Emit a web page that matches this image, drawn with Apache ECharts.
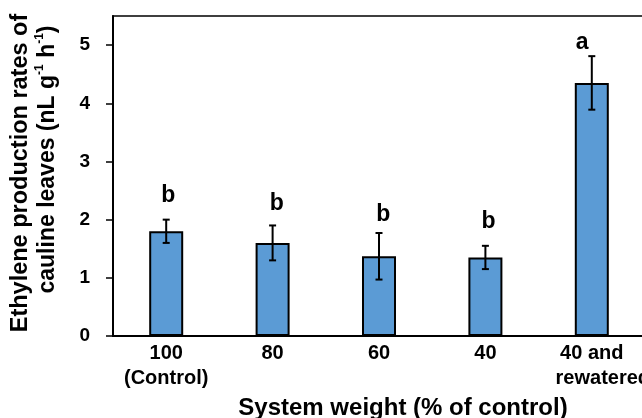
<!DOCTYPE html>
<html>
<head>
<meta charset="utf-8">
<script src="https://cdn.jsdelivr.net/npm/echarts@6/dist/echarts.min.js"></script>
<style>
html,body{margin:0;padding:0;background:#fff;}
#chart{width:642px;height:418px;}
</style>
</head>
<body>
<div id="chart"></div>
<script>
var categories = ['100\n(Control)', '80', '60', '40', '40 and\nrewatered'];
var means = [1.80, 1.60, 1.37, 1.35, 4.35];
var errors = [0.20, 0.30, 0.40, 0.20, 0.46];
var letters = ['b', 'b', 'b', 'b', 'a'];
var letterShift = [0.02, 0.04, 0.04, 0.03, -0.09];
var letterY = [2.42, 2.27, 2.09, 1.96, 5.05];
var yTicks = [0, 1, 2, 3, 4, 5];

var FONT = "'Liberation Sans', Arial, sans-serif";
var chart = echarts.init(document.getElementById('chart'));

var errData = means.map(function (m, i) { return [i, m - errors[i], m + errors[i]]; });
var letterData = letters.map(function (l, i) { return [i, letterY[i], letterShift[i]]; });

chart.setOption({
  animation: false,
  backgroundColor: '#fff',
  grid: { left: 113, top: 16, width: 532, height: 320, show: true, borderColor: '#000', borderWidth: 1.5, backgroundColor: 'transparent', containLabel: false, outerBoundsMode: 'none' },
  xAxis: {
    type: 'category',
    data: categories,
    axisLine: { lineStyle: { color: '#000', width: 2 } },
    axisTick: { show: false },
    axisLabel: {
      color: '#000', fontFamily: FONT, fontWeight: 'bold', fontSize: 20, lineHeight: 25, margin: 5,
      interval: 0,
      formatter: function (v) {
        if (v.indexOf('rewatered') >= 0) return '40 and\n{r|rewatered}';
        return v;
      },
      rich: { r: { color: '#000', fontFamily: FONT, fontWeight: 'bold', fontSize: 20, lineHeight: 25, padding: [0, 0, 0, 22] } }
    },
    name: 'System weight (% of control)',
    nameLocation: 'middle',
    nameGap: 53,
    nameTextStyle: { color: '#000', fontFamily: FONT, fontWeight: 'bold', fontSize: 24, padding: [0, 0, 0, 48] }
  },
  yAxis: {
    type: 'value',
    min: 0, max: 5.5, interval: 1,
    splitLine: { show: false },
    axisLine: { show: true, lineStyle: { color: '#000', width: 2 } },
    axisTick: { show: true, length: 7, lineStyle: { color: '#000', width: 1.5 }, customValues: yTicks },
    axisLabel: { color: '#000', fontFamily: FONT, fontWeight: 'bold', fontSize: 19, margin: 23, customValues: yTicks },
    name: '{l1|Ethylene production rates of}\n{l2|cauline leaves (nL g}{s|-1}{n| h}{s|-1}{n|)}',
    nameLocation: 'middle',
    nameGap: 52,
    nameRotate: 90,
    nameTextStyle: {
      color: '#000', fontFamily: FONT, fontWeight: 'bold', fontSize: 23.5, lineHeight: 27,
      rich: {
        l1: { color: '#000', fontFamily: FONT, fontWeight: 'bold', fontSize: 23.5, lineHeight: 27, padding: [0, 0, 0, 6] },
        l2: { color: '#000', fontFamily: FONT, fontWeight: 'bold', fontSize: 23, lineHeight: 27, padding: [0, 0, 0, 33] },
        n: { color: '#000', fontFamily: FONT, fontWeight: 'bold', fontSize: 23, lineHeight: 27 },
        s: { color: '#000', fontFamily: FONT, fontWeight: 'bold', fontSize: 12, lineHeight: 15, verticalAlign: 'top' }
      }
    }
  },
  series: [
    {
      type: 'bar',
      data: means,
      barWidth: 34,
      itemStyle: { color: '#5B9BD5', borderColor: '#000', borderWidth: 2 },
      z: 2
    },
    {
      type: 'custom',
      data: errData,
      z: 5,
      renderItem: function (params, api) {
        var x = api.value(0);
        var lo = api.coord([x, api.value(1)]);
        var hi = api.coord([x, api.value(2)]);
        var hw = 3.5;
        var st = { stroke: '#000', lineWidth: 2 };
        return {
          type: 'group',
          children: [
            { type: 'line', shape: { x1: lo[0], y1: lo[1], x2: hi[0], y2: hi[1] }, style: st },
            { type: 'line', shape: { x1: hi[0] - hw, y1: hi[1], x2: hi[0] + hw, y2: hi[1] }, style: st },
            { type: 'line', shape: { x1: lo[0] - hw, y1: lo[1], x2: lo[0] + hw, y2: lo[1] }, style: st }
          ]
        };
      }
    },
    {
      type: 'custom',
      data: letterData,
      z: 6,
      silent: true,
      renderItem: function (params, api) {
        var p = api.coord([api.value(0), api.value(1)]);
        var bandW = api.size([1, 0])[0];
        return {
          type: 'text',
          x: p[0] + api.value(2) * bandW, y: p[1],
          style: {
            text: letters[params.dataIndex],
            fill: '#000', font: 'bold 23px ' + FONT,
            align: 'center', verticalAlign: 'middle'
          }
        };
      }
    }
  ]
});
</script>
</body>
</html>
